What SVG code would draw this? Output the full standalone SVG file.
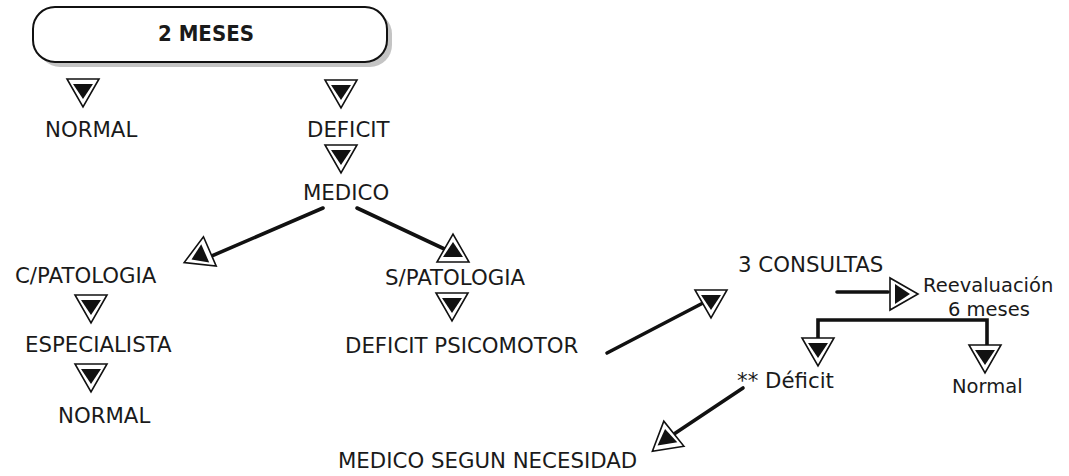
<svg xmlns="http://www.w3.org/2000/svg" width="1069" height="476" viewBox="0 0 1069 476">
<defs>
<style>
text{font-family:"DejaVu Sans","Liberation Sans",sans-serif;font-size:21.3px;fill:#1a1a1a}
.b{font-family:"DejaVu Sans Condensed","DejaVu Sans",sans-serif;font-stretch:condensed;font-weight:bold;font-size:22px}
.s{font-size:19.5px}
.ln{fill:none;stroke:#111;stroke-width:3.6;stroke-linecap:round}
</style>
<g id="tri">
<polygon points="-16,-14 16,-14 0,14" fill="#fff" stroke="#111" stroke-width="1.6" stroke-linejoin="miter"/>
<polygon points="-10,-9 10,-9 0,6" fill="#111"/>
</g>
</defs>
<rect width="1069" height="476" fill="#fff"/>
<g id="connectors">
<path class="ln" d="M323,208 L200,261"/>
<path class="ln" d="M357,208 L453,253"/>
<path class="ln" d="M607,353 L703,303"/>
<path class="ln" d="M837,292 L888,292" stroke-linecap="butt"/>
<path class="ln" d="M818,340 V320 H987 V345" stroke-linecap="butt"/>
<path class="ln" d="M743,388 L662,442"/>
</g>
<g id="n-2meses">
<rect x="38" y="12" width="354" height="55" rx="22" fill="#c4c4c4"/>
<rect x="33" y="7" width="354" height="55" rx="22" fill="#fff" stroke="#111" stroke-width="2"/>
<text class="b" x="158" y="41">2 MESES</text>
</g>
<g id="n-normal1">
<use href="#tri" transform="translate(83,93)"/>
<text x="45" y="137">NORMAL</text>
</g>
<g id="n-deficit">
<use href="#tri" transform="translate(341,94)"/>
<text x="307" y="137">DEFICIT</text>
</g>
<g id="n-medico">
<use href="#tri" transform="translate(341,159)"/>
<text x="303" y="200">MEDICO</text>
</g>
<g id="n-cpatologia">
<use href="#tri" transform="translate(197,257) rotate(66.5)"/>
<text x="15" y="283">C/PATOLOGIA</text>
</g>
<g id="n-especialista">
<use href="#tri" transform="translate(91,309)"/>
<text x="25" y="352">ESPECIALISTA</text>
</g>
<g id="n-normal2">
<use href="#tri" transform="translate(91,378)"/>
<text x="58" y="423">NORMAL</text>
</g>
<g id="n-spatologia">
<use href="#tri" transform="translate(453,248) rotate(180)"/>
<text x="385" y="285">S/PATOLOGIA</text>
</g>
<g id="n-deficitpsico">
<use href="#tri" transform="translate(452,307)"/>
<text x="345" y="353">DEFICIT PSICOMOTOR</text>
</g>
<g id="n-3consultas">
<use href="#tri" transform="translate(711,304)"/>
<text x="738" y="272">3 CONSULTAS</text>
</g>
<g id="n-reevaluacion">
<use href="#tri" transform="translate(904,294) rotate(-90)"/>
<text class="s" x="923" y="292">Reevaluación</text>
<text class="s" x="948" y="316">6 meses</text>
</g>
<g id="n-deficit2">
<use href="#tri" transform="translate(818,352)"/>
<text x="737" y="388">** Déficit</text>
</g>
<g id="n-normal3">
<use href="#tri" transform="translate(985,359)"/>
<text class="s" x="952" y="393">Normal</text>
</g>
<g id="n-medico-seg">
<use href="#tri" transform="translate(666,435) rotate(171)"/>
<text x="338" y="468">MEDICO SEGUN NECESIDAD</text>
</g>
</svg>
